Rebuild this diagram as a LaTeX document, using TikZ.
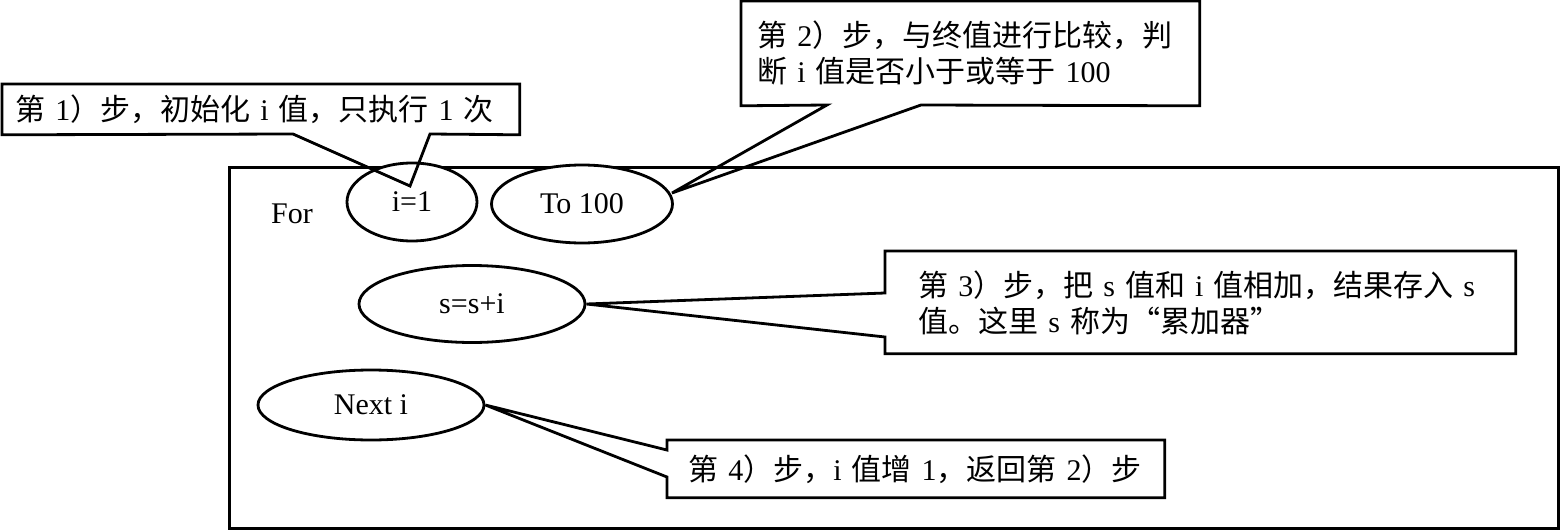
\documentclass[tikz,border=0pt]{standalone}
\usepackage{fontspec}
\setmainfont{Liberation Serif}
\newfontfamily\cjk{Noto Sans CJK SC}
\usetikzlibrary{shapes.geometric,calc}
\newcommand{\zh}[1]{{\cjk #1}}
\begin{document}
\begin{tikzpicture}[x=0.5pt,y=-0.5pt,
  every node/.style={font=\fontsize{15}{18}\selectfont},
  line/.style={line width=1.4pt, line join=miter},
  oval/.style={ellipse, draw, line width=1.4pt, fill=white, inner sep=0pt},
  callbox/.style={rectangle, draw=none, anchor=north west, inner ysep=0pt, align=left}]
\useasboundingbox (0,0) rectangle (1560,530);
% frame
\node[draw, line width=1.4pt, anchor=north west, minimum width=664.5pt, minimum height=180.5pt, inner sep=0pt] (frame) at (228,166) {};
% ellipses
\node[oval, minimum width=65pt, minimum height=39pt] (i1) at (412,202) {i=1};
\node[oval, minimum width=90.5pt, minimum height=39pt] (to) at (582,204) {To 100};
\node[oval, minimum width=113pt, minimum height=38.5pt] (s) at (472,304) {s=s+i};
\node[oval, minimum width=113pt, minimum height=35pt] (next) at (371,405) {Next i};
\node (for) at (292,214) {For};
% callout 1
\node[callbox, minimum width=258.5pt, minimum height=25pt, inner xsep=6.5pt, text width=245.5pt] (c1) at (2,84)
  {\zh{第} 1\zh{）步，初始化} i \zh{值，只执行} 1 \zh{次}};
\coordinate (c1r) at (430,134);
\coordinate (c1l) at (293,134);
\coordinate (t1) at (410,186);
\draw[line] (c1.north west) -- (c1.north east) -- (c1.south east) -- (c1r) -- (t1) -- (c1l) -- (c1.south west) -- cycle;
% callout 2
\node[callbox, minimum width=229pt, minimum height=52pt, inner xsep=8pt, text width=213pt] (c2) at (741,1)
  {\zh{第} 2\zh{）步，与终值进行比较，判}\\\zh{断} i \zh{值是否小于或等于} 100};
\coordinate (c2r) at (921,105);
\coordinate (c2l) at (827,105);
\coordinate (t2) at (672,193);
\draw[line] (c2.north west) -- (c2.north east) -- (c2.south east) -- (c2r) -- (t2) -- (c2l) -- (c2.south west) -- cycle;
% callout 3
\node[callbox, minimum width=315pt, minimum height=51pt, inner xsep=16.5pt, text width=282pt] (c3) at (885,251)
  {\zh{第} 3\zh{）步，把} s \zh{值和} i \zh{值相加，结果存入} s\\\zh{值。这里} s \zh{称为“累加器”}};
\coordinate (c3b) at (885,337);
\coordinate (c3t) at (885,293);
\draw[line] (c3.north west) -- (c3.north east) -- (c3.south east) -- (c3.south west) -- (c3b) -- (s.east) -- (c3t) -- cycle;
% callout 4
\node[callbox, minimum width=248.5pt, minimum height=28.5pt, inner xsep=10.5pt, text width=227.5pt] (c4) at (667,440)
  {\zh{第} 4\zh{）步，}i \zh{值增} 1\zh{，返回第} 2\zh{）步}};
\coordinate (c4b) at (667,477);
\coordinate (c4t) at (667,450);
\draw[line] (c4.north west) -- (c4.north east) -- (c4.south east) -- (c4.south west) -- (c4b) -- (next.east) -- (c4t) -- cycle;
\end{tikzpicture}
\end{document}
